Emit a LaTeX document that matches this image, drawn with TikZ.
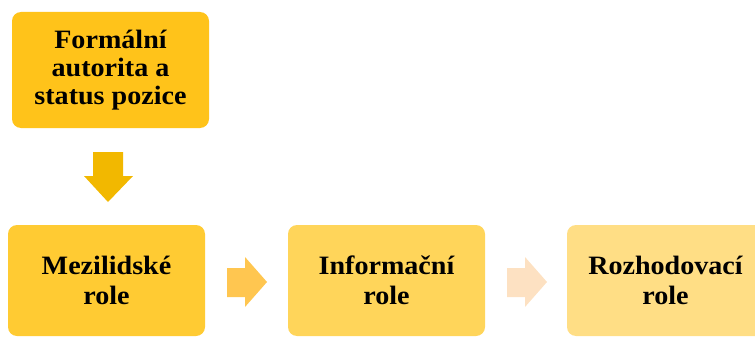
\documentclass[tikz,border=0pt]{standalone}
\usepackage{fontspec}
\setmainfont{Liberation Serif}[FakeStretch=1.06]
\definecolor{topbox}{HTML}{FFC31A}
\definecolor{downarr}{HTML}{F2B800}
\definecolor{boxA}{HTML}{FFCB33}
\definecolor{boxB}{HTML}{FFD55A}
\definecolor{boxC}{HTML}{FFDE85}
\definecolor{arrA}{HTML}{FFC650}
\definecolor{arrB}{HTML}{FDE1C2}
\tikzset{
  rolebox/.style={rounded corners=9pt, minimum width=197pt, inner sep=0pt, align=center,
    font=\bfseries\fontsize{26.5}{30}\selectfont, text=black},
}
\begin{document}
\begin{tikzpicture}[x=1pt,y=-1pt]
\useasboundingbox (0,0) rectangle (755,337);
\clip (0,0) rectangle (755,337);
% top box
\node[rolebox, fill=topbox, minimum height=116pt, font=\bfseries\fontsize{26.5}{28}\selectfont] (formal) at (110.5,70) {Formální\\autorita a\\status pozice};
% bottom boxes
\node[rolebox, fill=boxA, minimum height=111pt] (mezi) at (106.5,280.5) {Mezilidské\\role};
\node[rolebox, fill=boxB, minimum height=111pt] (info) at (386.5,280.5) {Informační\\role};
\node[rolebox, fill=boxC, minimum height=111pt] (rozh) at (665.5,280.5) {Rozhodovací\\role};
% down block arrow
\coordinate (d) at (108,152);
\fill[downarr] (d) ++(-15,0) -- ++(30,0) -- ++(0,24) -- ++(10,0) -- (108,202) -- (84,176) -- ++(9,0) -- cycle;
% right block arrows
\coordinate (r1) at (227,268);
\fill[arrA] (r1) -- ++(18,0) -- ++(0,-11) -- ++(22,25) -- ++(-22,25) -- ++(0,-10) -- ++(-18,0) -- cycle;
\coordinate (r2) at (507,268);
\fill[arrB] (r2) -- ++(18,0) -- ++(0,-11) -- ++(22,25) -- ++(-22,25) -- ++(0,-10) -- ++(-18,0) -- cycle;
\end{tikzpicture}
\end{document}
